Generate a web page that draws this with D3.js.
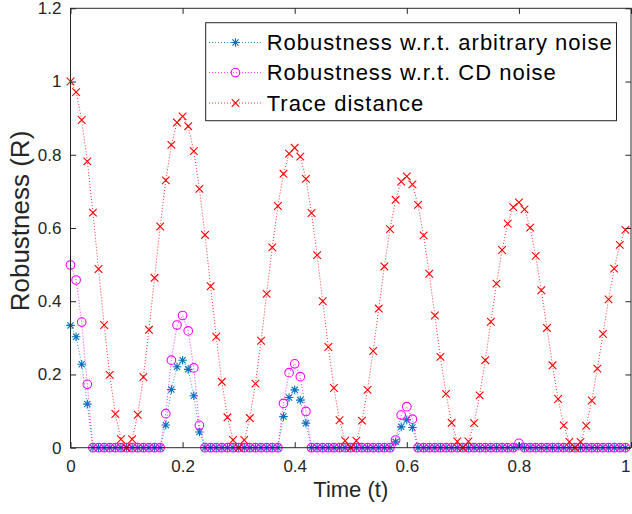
<!DOCTYPE html>
<html><head><meta charset="utf-8">
<script src="https://cdn.jsdelivr.net/npm/d3@7"></script>
<style>body{margin:0;background:#fff;} svg{display:block;font-family:"Liberation Sans",Arial,sans-serif;}</style>
</head><body><svg id="c" width="632" height="514"></svg>
<script>
const time = [0.00,0.01,0.02,0.03,0.04,0.05,0.06,0.07,0.08,0.09,0.10,0.11,0.12,0.13,0.14,0.15,0.16,0.17,0.18,0.19,
0.20,0.21,0.22,0.23,0.24,0.25,0.26,0.27,0.28,0.29,0.30,0.31,0.32,0.33,0.34,0.35,0.36,0.37,0.38,0.39,
0.40,0.41,0.42,0.43,0.44,0.45,0.46,0.47,0.48,0.49,0.50,0.51,0.52,0.53,0.54,0.55,0.56,0.57,0.58,0.59,
0.60,0.61,0.62,0.63,0.64,0.65,0.66,0.67,0.68,0.69,0.70,0.71,0.72,0.73,0.74,0.75,0.76,0.77,0.78,0.79,
0.80,0.81,0.82,0.83,0.84,0.85,0.86,0.87,0.88,0.89,0.90,0.91,0.92,0.93,0.94,0.95,0.96,0.97,0.98,0.99];
const robustArbitrary = [0.334,0.303,0.228,0.119,0,0,0,0,0,0,0,0,0,0,0,0,0,0.062,0.159,0.221,
0.239,0.214,0.142,0.043,0,0,0,0,0,0,0,0,0,0,0,0,0,0,0.085,0.137,
0.158,0.130,0.067,0,0,0,0,0,0,0,0,0,0,0,0,0,0,0,0.016,0.057,
0.076,0.055,0,0,0,0,0,0,0,0,0,0,0,0,0,0,0,0,0,0,
0.004,0,0,0,0,0,0,0,0,0,0,0,0,0,0,0,0,0,0,0];
const robustCD = [0.499,0.458,0.343,0.173,0,0,0,0,0,0,0,0,0,0,0,0,0,0.093,0.239,0.335,
0.361,0.319,0.218,0.061,0,0,0,0,0,0,0,0,0,0,0,0,0,0,0.121,0.205,
0.229,0.194,0.099,0,0,0,0,0,0,0,0,0,0,0,0,0,0,0,0.021,0.089,
0.112,0.078,0,0,0,0,0,0,0,0,0,0,0,0,0,0,0,0,0,0,
0.012,0,0,0,0,0,0,0,0,0,0,0,0,0,0,0,0,0,0,0];
const traceDistance = [1.000,0.971,0.895,0.782,0.642,0.488,0.335,0.199,0.092,0.023,0,0.023,0.090,0.193,0.322,0.464,0.604,0.730,0.827,0.888,
0.905,0.878,0.810,0.707,0.581,0.441,0.303,0.180,0.083,0.021,0,0.021,0.081,0.175,0.292,0.420,0.547,0.660,0.748,0.803,
0.819,0.795,0.734,0.641,0.526,0.400,0.275,0.163,0.075,0.019,0,0.019,0.074,0.158,0.264,0.380,0.495,0.597,0.677,0.727,
0.741,0.719,0.663,0.580,0.475,0.361,0.248,0.147,0.068,0.017,0,0.017,0.067,0.143,0.239,0.344,0.448,0.540,0.612,0.657,
0.670,0.651,0.601,0.524,0.430,0.327,0.225,0.133,0.061,0.016,0,0.016,0.060,0.129,0.216,0.311,0.405,0.489,0.554,0.595];
const xTicks = [0,0.2,0.4,0.6,0.8,1];
const yTicks = [0,0.2,0.4,0.6,0.8,1,1.2];
const seriesNames = ["Robustness w.r.t. arbitrary noise","Robustness w.r.t. CD noise","Trace distance"];
const xLabel = "Time (t)", yLabel = "Robustness (R)";

const svg = d3.select("#c");
const L=70.5, R=631, T=8.3, B=447.7;
const x = d3.scaleLinear().domain([0,1]).range([L,R]);
const y = d3.scaleLinear().domain([0,1.2]).range([B,T]);
const axisCol="#262626";

const series = [
  {name:seriesNames[0], vals:robustArbitrary, color:"#0072BD", marker:"star"},
  {name:seriesNames[1], vals:robustCD, color:"#FF00FF", marker:"circle"},
  {name:seriesNames[2], vals:traceDistance, color:"#FF0000", marker:"x"}
];
function markerPath(type){
  if(type==="star"){const a=4.3, d=3.1; return `M${-a},0L${a},0M0,${-a}L0,${a}M${-d},${-d}L${d},${d}M${-d},${d}L${d},${-d}`;}
  if(type==="x"){const d=3.8; return `M${-d},${-d}L${d},${d}M${-d},${d}L${d},${-d}`;}
  return null;
}
function drawMarker(g,type,color,cx,cy){
  if(type==="circle") g.append("circle").attr("cx",cx).attr("cy",cy).attr("r",4.3).attr("fill","none").attr("stroke",color).attr("stroke-width",1.1);
  else g.append("path").attr("d",markerPath(type)).attr("transform",`translate(${cx},${cy})`).attr("fill","none").attr("stroke",color).attr("stroke-width",1.1);
}

const line = d3.line().x((d,i)=>x(time[i])).y(d=>y(d));
series.forEach(s=>{
  const g = svg.append("g");
  g.append("path").datum(s.vals).attr("d",line).attr("fill","none").attr("stroke",s.color).attr("stroke-width",1).attr("stroke-dasharray","1,2").attr("opacity",0.8);
  s.vals.forEach((v,i)=>drawMarker(g,s.marker,s.color,x(time[i]),y(v)));
});

// axes box and ticks
const ax = svg.append("g");
ax.append("rect").attr("x",L).attr("y",T).attr("width",R-L).attr("height",B-T).attr("fill","none").attr("stroke",axisCol).attr("stroke-width",1);
const tl=5.6;
const xb = ax.append("g").attr("transform",`translate(0,${B})`).call(d3.axisBottom(x).tickValues(xTicks).tickSize(-tl).tickPadding(12).tickFormat(d3.format("")));
const xt = ax.append("g").attr("transform",`translate(0,${T})`).call(d3.axisTop(x).tickValues(xTicks).tickSize(-tl).tickFormat(""));
const yl = ax.append("g").attr("transform",`translate(${L},0)`).call(d3.axisLeft(y).tickValues(yTicks).tickSize(-tl).tickPadding(9).tickFormat(d3.format("")));
const yr = ax.append("g").attr("transform",`translate(${R},0)`).call(d3.axisRight(y).tickValues(yTicks).tickSize(-tl).tickFormat(""));
[xb,xt,yl,yr].forEach(g=>{g.select(".domain").remove(); g.selectAll("line").attr("stroke",axisCol); g.selectAll("text").attr("fill",axisCol).style("font-size","17px").style("font-family","Liberation Sans, Arial, sans-serif");});
// keep the last x tick label inside the picture
xb.selectAll(".tick").filter(d=>d===1).select("text").attr("text-anchor","end").attr("dx","-1");

svg.append("text").attr("x",(L+R)/2).attr("y",497).attr("text-anchor","middle").attr("fill",axisCol).style("font-size","22px").text(xLabel);
svg.append("text").attr("transform",`translate(29,221) rotate(-90)`).attr("text-anchor","middle").attr("fill",axisCol).style("font-size","26px").text(yLabel);

// legend
const lg = svg.append("g");
lg.append("rect").attr("x",205.7).attr("y",22.7).attr("width",410.8).attr("height",98).attr("fill","#fff").attr("stroke",axisCol).attr("stroke-width",1);
const rows=[42.5,72.6,103];
series.forEach((s,i)=>{
  lg.append("line").attr("x1",209).attr("x2",262).attr("y1",rows[i]).attr("y2",rows[i]).attr("stroke",s.color).attr("stroke-width",1).attr("stroke-dasharray","1,2").attr("opacity",0.8);
  drawMarker(lg,s.marker,s.color,235.5,rows[i]);
  lg.append("text").attr("x",266.7).attr("y",rows[i]+7.8).attr("fill","#000").style("font-size","22px").style("letter-spacing","1px").text(s.name);
});
</script></body></html>
